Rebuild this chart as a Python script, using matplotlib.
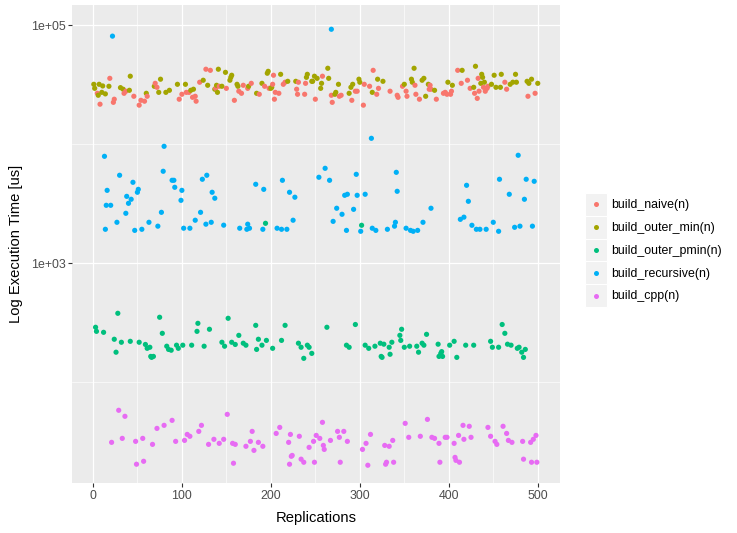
import numpy as np
import pandas as pd
import matplotlib
matplotlib.use("Agg")
import matplotlib.pyplot as plt
from matplotlib.ticker import FixedLocator, NullFormatter
from matplotlib.legend_handler import HandlerBase
from matplotlib.patches import Rectangle
from matplotlib.lines import Line2D

plt.rcParams['font.family'] = ['Liberation Sans', 'DejaVu Sans']

series_names = ["build_naive(n)", "build_outer_min(n)", "build_outer_pmin(n)",
                "build_recursive(n)", "build_cpp(n)"]
series_colors = ["#F8766D", "#A3A500", "#00BF7D", "#00B0F6", "#E76BF3"]

naive_x = [5, 8, 19, 23, 24, 35, 37, 46, 52, 54, 58, 61, 70, 72, 97, 100, 105, 108, 112, 115, 116, 120, 127, 132, 138, 142, 150, 159,
           164, 167, 169, 174, 178, 187, 193, 198, 202, 203, 204, 205, 209, 214, 216, 229, 230, 231, 238, 239, 250, 258, 268, 269, 277, 279,
           291, 295, 297, 304, 305, 311, 315, 319, 321, 334,
           342, 343, 348, 352, 353, 362, 363, 367, 379, 380, 378, 386, 394, 396, 398, 402, 403, 410, 414, 421, 424, 429, 432, 433, 434,
           439, 441, 443, 444, 463, 465, 489, 497]
naive_us = [26800, 21700, 35800, 22500, 23900, 26800, 27900, 25300, 21300, 23400, 23000, 25300, 32500, 30100, 23900, 26300, 27300, 27300,
            24800, 25300, 23000, 33200, 42700, 41800, 29500, 30700, 29500, 23400,
            27900, 26800, 31300, 29500, 32500, 26300, 30700, 29500, 31900, 38000, 23900, 27300, 26800, 31900, 33200, 29000, 26300, 33200,
            26300, 32500, 23900, 37300, 25800, 22500, 25300, 25800, 23400, 27900, 27900, 21300, 31900, 30700, 41800, 26300, 29500, 27900,
            25800, 24800, 30700, 27900, 25300, 31300, 26300, 23900, 31300, 29000, 29000, 23900, 26800, 27300, 26300, 26300, 27900, 41800,
            32500, 34500, 29500, 26800, 24300, 35800, 27900, 30100, 27900, 29500, 30700, 33200, 29000, 25300, 26800]

outer_min_x = [1, 2, 7, 11, 6, 10, 14, 18, 31, 34, 41, 42, 60, 69, 74, 76, 82, 86, 95, 104, 110, 113, 124, 129, 139, 137, 140, 141, 145,
               149, 154, 155, 156, 162,
               163, 175, 184, 190, 196, 197, 211, 200, 201, 219, 228, 240, 241, 246, 247, 249, 252, 257, 256, 264, 265, 272, 273, 276,
               288, 290, 292, 299, 300, 314, 320, 326,
               350, 358, 359, 361, 370, 372, 377, 374, 384, 399, 404, 415, 428, 430, 437, 438, 436, 440, 448, 451, 453, 458, 459, 469,
               472, 475, 476, 488, 490, 493, 500]
outer_min_us = [31900, 29500, 31900, 30900, 25800, 27300, 26500, 30700, 29900, 29000, 28400, 37300, 26800, 30700, 27300, 35200, 27300,
                28400, 31900, 31900, 28400, 29000, 34500, 31300, 31300, 29000, 27300, 42700, 30700, 40200, 34500, 36500, 38000, 31900,
                30700, 30700, 26800, 32500, 39500, 41000, 38700, 29500, 30100, 33800, 33800, 36500, 38700, 33800, 33800, 37300, 35800,
                32500, 29500, 43500, 35800, 26300, 27300, 31900, 26800, 30100, 31900, 35200, 33200, 27300, 35200, 33800,
                31900, 35200, 33200, 43500, 34500, 35800, 31900, 25300, 28400, 33200, 31300, 41800, 30100, 45200, 38700, 36500, 32500,
                33200, 31900, 38000, 30100, 30100, 38700, 31900, 33200, 38700, 33200, 33800, 32500, 35200, 32500]

outer_pmin_x = [3, 4, 12, 28, 24, 26, 32, 42, 52, 59, 61, 64, 65, 66, 68, 75, 78, 83, 85, 88, 94, 96, 101, 111, 118, 117, 125, 131, 145,
                148, 152, 156, 160, 164, 169, 172, 183, 186, 184, 190, 195, 202, 212, 216, 231, 234, 237, 241, 243, 246,
                194, 302,
                263, 285, 288, 295, 306, 310, 317, 323, 327, 324, 325, 333, 334, 336, 345, 347, 346, 350, 356, 364, 366, 370, 372, 375,
                388, 389, 391, 392, 393, 401, 406, 409, 419, 428, 447, 449, 456, 460, 463, 466, 470, 477, 479, 482, 484, 486]
outer_pmin_us = [290, 268, 263, 380, 230, 179, 217, 221, 217, 208, 193, 197, 165, 162, 165, 352, 258, 201, 189, 186, 205, 193, 205, 205,
                 313, 268, 201, 279, 217, 201, 345, 217, 208, 248, 213, 205, 301, 230, 189, 205, 225, 193, 225, 301, 213, 197, 159, 205,
                 197, 175,
                 2167, 2086,
                 290, 205, 197, 306, 205, 193, 201, 213, 209, 165, 162, 197, 172, 217, 248, 279, 225, 197, 201, 201, 179, 213, 205, 253,
                 209, 165, 175, 181, 165, 205, 221, 162, 205, 205, 221, 197, 197, 306, 258, 209, 205, 193, 197, 179, 162, 189]

recursive_x = [22, 268,
               13, 80, 16, 30, 45, 79, 89, 91, 92, 123, 128, 51, 50, 38, 43, 40, 15, 20, 37, 27, 14, 47, 55, 63, 73, 77, 100, 99, 102,
               109, 115, 121, 127, 133, 134, 137, 147,
               165, 174, 173, 176, 183, 192, 191, 207, 212, 218, 213, 221, 227, 225, 254, 261, 266, 270, 274, 280, 283, 286, 285, 293,
               296, 297, 301, 306, 313, 314, 318, 331, 339, 340, 341, 342,
               352, 357, 360, 365, 371, 380, 413, 417, 420, 422, 426, 431, 435, 442, 450, 456, 457, 468, 478, 474, 480, 485, 487, 494, 496]
recursive_us = [81000, 92500,
                7920, 9610, 4100, 5490, 4790, 5930, 4980, 4980, 4350, 5080, 5490, 4180, 3950, 3650, 3450, 3190, 3070, 3070, 2630, 2210,
                1930, 1890, 1930, 2210, 2050, 2680, 4100, 3380, 1970, 1970, 2300, 2680, 2130, 2210, 3950, 3520, 2090,
                1970, 2130, 1930, 1970, 4610, 4180, 1930, 1970, 1930, 1930, 4980, 3950, 3590, 2300, 5280, 6280, 4980, 2250, 2900, 2580,
                3725, 3800, 1890, 2840, 5590, 3725, 1857, 3800, 11220, 1970, 1890, 1930, 2050, 2210, 5810, 4025,
                1970, 1890, 1857, 1890, 2210, 2900, 2340, 2440, 4520, 3317, 2086, 1930, 1930, 1930, 2210, 1857, 5080, 3800, 8080, 2006,
                2050, 3450, 5080, 2050, 4884]

cpp_x = [29, 36, 21, 33, 48, 56, 49, 57, 67, 72, 80, 89, 93, 103, 106, 109, 119, 122, 130, 136, 142, 147, 151, 157, 160, 158,
         179, 172, 177, 181, 186, 191, 210, 206, 222, 220, 232, 223, 224, 221, 234, 237, 243, 248, 249, 251, 255, 258, 259, 260, 267,
         275, 277, 282, 286, 278, 303, 307, 312, 309, 328, 333, 337, 330, 329, 338,
         351, 355, 368, 376, 381, 384, 389, 390, 396, 398, 406, 411, 407, 408, 412, 416, 417, 423, 425, 444, 447, 452, 454, 461, 465,
         467, 471, 483, 484, 492, 495, 498, 493, 499]
cpp_us = [58.2, 51.8, 31.3, 33.8, 31.9, 33.8, 20.5, 21.7, 30.1, 41.0, 43.5, 47.9, 31.9, 32.5, 36.5, 35.2, 38.7, 43.5, 30.1, 33.2, 30.7,
          33.2, 53.8, 30.7, 30.1, 20.9,
          38.7, 29.0, 31.9, 26.8, 31.3, 29.0, 41.8, 37.2, 36.5, 31.3, 35.2, 23.9, 24.3, 20.5, 22.6, 21.3, 28.4, 31.9, 21.3, 35.8, 33.8,
          46.1, 29.5, 27.3, 32.5, 38.7, 34.5, 38.7, 31.9, 21.3, 27.3, 30.7, 36.5, 20.1, 29.5, 29.0, 32.5, 21.3, 20.5, 21.3,
          45.2, 34.5, 35.2, 48.8, 34.5, 33.8, 30.7, 21.3, 34.5, 34.5, 30.7, 35.8, 23.4, 22.1, 21.3, 43.5, 33.2, 42.7, 34.5, 41.8, 35.2,
          31.9, 30.1, 42.7, 37.2, 32.5, 31.3, 31.9, 22.6, 31.3, 33.2, 35.8, 21.3, 21.3]

xs = [naive_x, outer_min_x, outer_pmin_x, recursive_x, cpp_x]
ys = [naive_us, outer_min_us, outer_pmin_us, recursive_us, cpp_us]
frames = []
for name, col, x, y in zip(series_names, series_colors, xs, ys):
    frames.append(pd.DataFrame({"rep": x, "time": y, "expr": name, "color": col}))
df = pd.concat(frames).sort_values("rep", kind="stable")

W, H = 737, 533
fig = plt.figure(figsize=(W / 100, H / 100), dpi=100)
ax = fig.add_axes([72 / W, (H - 483) / H, (560 - 72) / W, (483 - 5) / H])
ax.set_facecolor("#EBEBEB")
for s in ax.spines.values():
    s.set_visible(False)

ax.scatter(df["rep"], df["time"], c=df["color"], s=14, linewidths=0, zorder=3)

ax.set_yscale("log")
ax.set_xlim(-23.5, 525)
ax.set_ylim(10 ** 1.154, 10 ** 5.17)
ax.set_xticks([0, 100, 200, 300, 400, 500])
ax.set_xticks([50, 150, 250, 350, 450], minor=True)
ax.yaxis.set_major_locator(FixedLocator([1e3, 1e5]))
ax.set_yticklabels(["1e+03", "1e+05"])
ax.yaxis.set_minor_locator(FixedLocator([1e2, 1e4]))
ax.yaxis.set_minor_formatter(NullFormatter())
ax.grid(which="major", color="white", linewidth=0.9)
ax.grid(which="minor", color="white", linewidth=0.45)
ax.set_axisbelow(True)
ax.tick_params(which="major", length=2.7, width=0.8, color="#333333",
               labelcolor="#4D4D4D", labelsize=8.9, pad=2)
ax.tick_params(which="minor", length=0)

ax.set_xlabel("Replications", fontsize=10.6, color="black")
ax.set_ylabel("Log Execution Time [us]", fontsize=10.6, color="black")
ax.xaxis.set_label_coords(0.5, (483 - 518) / 478)
ax.xaxis.label.set_va("center")
ax.yaxis.set_label_coords((16 - 72) / 488, 0.5)
ax.yaxis.label.set_va("center")


class KeyHandler(HandlerBase):
    def create_artists(self, legend, orig_handle, xdescent, ydescent, width, height, fontsize, trans):
        r = Rectangle((-xdescent, -ydescent), width, height, facecolor="#F2F2F2",
                      edgecolor="white", linewidth=0.8, transform=trans)
        m = Line2D([width / 2 - xdescent], [height / 2 - ydescent], marker="o", markersize=3.6,
                   linestyle="", color=orig_handle.get_color(), markeredgewidth=0, transform=trans)
        return [r, m]


handles = [Line2D([], [], color=c, marker="o", linestyle="") for c in series_colors]
fs = 8.9
px_per_em = fs / 72 * 100
key_h_em = 22.8 / px_per_em
handleheight = (key_h_em - 0.245) / 0.65
fig.legend(handles, series_names, loc="upper left",
           bbox_to_anchor=(585 / W, 1 - 193 / H), borderpad=0, borderaxespad=0,
           frameon=False, fontsize=fs, labelspacing=0,
           handlelength=22 / px_per_em, handleheight=handleheight,
           handletextpad=4 / px_per_em, handler_map={Line2D: KeyHandler()})

fig.savefig("out.png", dpi=100)
